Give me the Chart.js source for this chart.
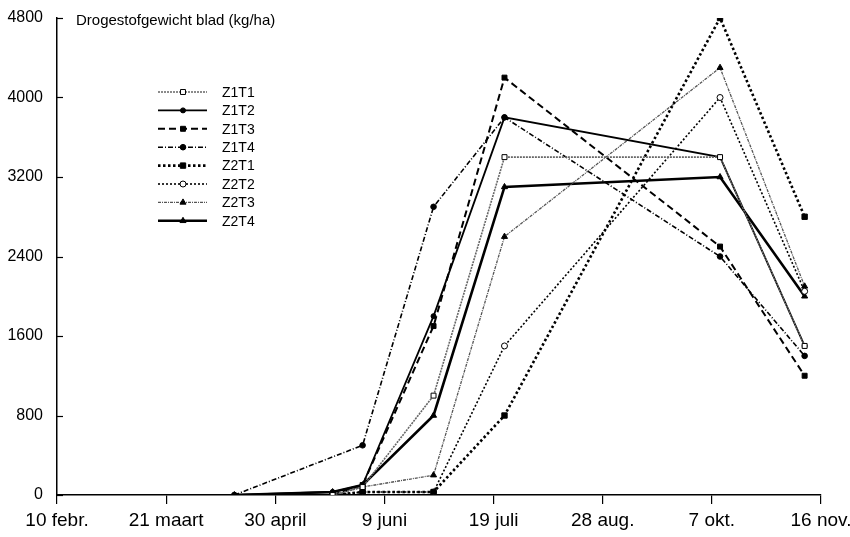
<!DOCTYPE html>
<html>
<head>
<meta charset="utf-8">
<script src="https://cdn.jsdelivr.net/npm/chart.js@4.4.1/dist/chart.umd.min.js"></script>
<style>
  html, body { margin: 0; padding: 0; background: #fff; }
  #wrap { width: 850px; height: 537px; }
</style>
</head>
<body>
<div id="wrap"><canvas id="chart"></canvas></div>
<script>
// ── DATA ──
// sampling moments, in days after 10 febr.
const sampleDays = [65, 101, 112, 138, 164, 243, 274]
const tickDays   = [0, 40, 80, 120, 160, 200, 240, 280]
const tickLabels = ['10 febr.', '21 maart', '30 april', '9 juni', '19 juli', '28 aug.', '7 okt.', '16 nov.']
const yMax  = 4800
const yStep = 800

const seriesNames = ['Z1T1', 'Z1T2', 'Z1T3', 'Z1T4', 'Z2T1', 'Z2T2', 'Z2T3', 'Z2T4']
const z1t1 = [null, 0, 80, 1000, 3400, 3400, 1500]
const z1t2 = [0, 30, 100, 1800, 3800, 3400, 1500]
const z1t3 = [null, 0, 100, 1700, 4200, 2500, 1200]
const z1t4 = [0, null, 500, 2900, 3800, 2400, 1400]
const z2t1 = [null, 0, 30, 30, 800, 4800, 2800]
const z2t2 = [null, 0, 30, 30, 1500, 4000, 2050]
const z2t3 = [null, 0, 80, 200, 2600, 4300, 2100]
const z2t4 = [0, 30, 100, 800, 3100, 3200, 2000]
const seriesValues = [z1t1, z1t2, z1t3, z1t4, z2t1, z2t2, z2t3, z2t4]

// ── STYLES ──
const FONT = "'Liberation Sans', Arial, Helvetica, sans-serif"
const styles = [
  { color: '#666', width: 1.6, dash: [2, 1],       point: 'rect',     r: 3.5, fill: '#fff' },
  { color: '#000', width: 1.8, dash: [],           point: 'circle',   r: 2.5, fill: '#000' },
  { color: '#000', width: 2,   dash: [7, 4],       point: 'rect',     r: 3.5, fill: '#000' },
  { color: '#000', width: 1.6, dash: [5, 2, 1, 2], point: 'circle',   r: 2.8, fill: '#000' },
  { color: '#000', width: 2.6, dash: [2.5, 2.5],   point: 'rect',     r: 3.8, fill: '#000' },
  { color: '#000', width: 1.6, dash: [2, 2],       point: 'circle',   r: 3,   fill: '#fff' },
  { color: '#555', width: 1.3, dash: [3, 1, 1, 1], point: 'triangle', r: 3.5, fill: '#000' },
  { color: '#000', width: 2.6, dash: [],           point: 'triangle', r: 3.5, fill: '#000' }
]

const datasets = seriesNames.map((name, i) => {
  const st = styles[i]
  const pts = []
  seriesValues[i].forEach((v, k) => { if (v !== null) pts.push({ x: sampleDays[k], y: v }) })
  return {
    label: name,
    data: pts,
    borderColor: st.color,
    borderWidth: st.width,
    borderDash: st.dash,
    pointStyle: st.point,
    pointRadius: st.r,
    pointBorderWidth: 1,
    pointBorderColor: '#000',
    pointBackgroundColor: st.fill,
    tension: 0,
    fill: false
  }
})

// ── OVERLAY: title, inner y ticks, legend ──
const overlay = {
  id: 'overlay',
  afterDraw(chart) {
    const ctx = chart.ctx
    const y = chart.scales.y
    const area = chart.chartArea
    ctx.save()

    // small inward ticks on y axis
    ctx.strokeStyle = '#000'
    ctx.lineWidth = 1.2
    ctx.setLineDash([])
    for (let v = 0; v <= yMax; v += yStep) {
      const py = Math.round(y.getPixelForValue(v)) + 0.5
      ctx.beginPath()
      ctx.moveTo(area.left, py)
      ctx.lineTo(area.left + 6, py)
      ctx.stroke()
    }

    // title
    ctx.fillStyle = '#000'
    ctx.font = '15px ' + FONT
    ctx.textAlign = 'left'
    ctx.textBaseline = 'middle'
    ctx.fillText('Drogestofgewicht blad (kg/ha)', area.left + 19, 21)

    // legend
    const x0 = 158, x1 = 207, xm = 183, xt = 222
    chart.data.datasets.forEach((ds, i) => {
      const ly = 92 + i * 18.4
      ctx.strokeStyle = ds.borderColor
      ctx.lineWidth = ds.borderWidth
      ctx.setLineDash(ds.borderDash)
      ctx.beginPath()
      ctx.moveTo(x0, ly)
      ctx.lineTo(x1, ly)
      ctx.stroke()
      ctx.setLineDash([])
      ctx.fillStyle = ds.pointBackgroundColor
      ctx.strokeStyle = '#000'
      ctx.lineWidth = 1
      Chart.helpers.drawPoint(ctx, { pointStyle: ds.pointStyle, radius: ds.pointRadius, rotation: 0, borderWidth: 1 }, xm, ly)
      ctx.fillStyle = '#000'
      ctx.font = '14px ' + FONT
      ctx.fillText(ds.label, xt, ly + 1)
    })
    ctx.restore()
  }
}

// ── CHART ──
new Chart(document.getElementById('chart'), {
  type: 'line',
  data: { datasets },
  plugins: [overlay],
  options: {
    responsive: true,
    maintainAspectRatio: false,
    animation: false,
    layout: { padding: { top: 18, right: 29, left: 0, bottom: 0 } },
    plugins: {
      legend: { display: false },
      tooltip: { enabled: false }
    },
    scales: {
      x: {
        type: 'linear',
        min: tickDays[0],
        max: tickDays[tickDays.length - 1],
        afterBuildTicks: s => { s.ticks = tickDays.map(v => ({ value: v })) },
        afterFit: s => { s.height = 42; s.paddingLeft = 0; s.paddingRight = 0 },
        border: { display: true, color: '#000', width: 1.5 },
        grid: { drawOnChartArea: false, drawTicks: true, tickLength: 9, color: '#000', lineWidth: 1.2 },
        ticks: {
          color: '#000',
          padding: 5,
          maxRotation: 0,
          autoSkip: false,
          font: { family: FONT, size: 19 },
          callback: (v) => tickLabels[tickDays.indexOf(v)]
        }
      },
      y: {
        min: 0,
        max: yMax,
        afterFit: s => { s.width = 57; s.paddingTop = 0; s.paddingBottom = 0 },
        border: { display: true, color: '#000', width: 1.5 },
        grid: { display: false, drawTicks: false },
        ticks: {
          stepSize: yStep,
          color: '#000',
          padding: 14,
          font: { family: FONT, size: 16 },
          callback: (v) => String(v)
        }
      }
    }
  }
})
</script>
</body>
</html>
